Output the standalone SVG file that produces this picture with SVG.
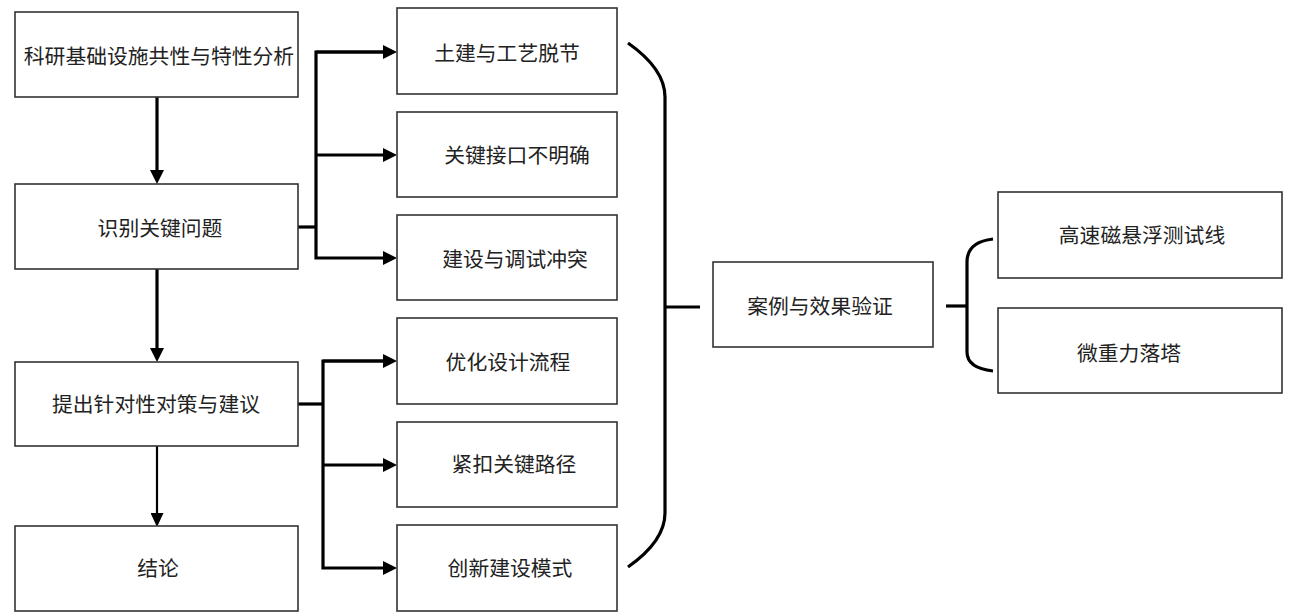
<svg xmlns="http://www.w3.org/2000/svg" width="1290" height="615" viewBox="0 0 1290 615">
<defs>
<style>
.box{fill:#fff;stroke:#333;stroke-width:1.6}
.t{font-family:"Noto Sans CJK SC","Noto Sans",sans-serif;font-size:20.8px;fill:#222;text-anchor:middle;dominant-baseline:central}
.c{fill:none;stroke:#000;stroke-width:3.2;stroke-linejoin:miter;stroke-linecap:butt}
.thin{stroke-width:2.2}
</style>
<marker id="ah" markerUnits="userSpaceOnUse" markerWidth="14" markerHeight="14" refX="0" refY="7" orient="auto" viewBox="0 0 14 14">
<path d="M0,0 L14,7 L0,14 z" fill="#000"/>
</marker>
<marker id="ahs" markerUnits="userSpaceOnUse" markerWidth="14" markerHeight="13" refX="0" refY="6.5" orient="auto" viewBox="0 0 14 13">
<path d="M0,0 L14,6.5 L0,13 z" fill="#000"/>
</marker>
</defs>
<rect width="1290" height="615" fill="#fff"/>

<g id="connectors">
<path class="c" d="M157,97 V170" marker-end="url(#ah)"/>
<path class="c" d="M157,269 V348" marker-end="url(#ah)"/>
<path class="c thin" d="M157,446 V513" marker-end="url(#ahs)"/>
<path class="c" d="M298,227 H316"/>
<path class="c" d="M383,52 H316 V258 H383" marker-end="url(#ah)"/>
<path class="c" d="M316,52 H383" marker-end="url(#ah)"/>
<path class="c" d="M316,155 H383" marker-end="url(#ah)"/>
<path class="c" d="M298,404 H323"/>
<path class="c" d="M383,361 H323 V568 H383" marker-end="url(#ah)"/>
<path class="c" d="M323,361 H383" marker-end="url(#ah)"/>
<path class="c" d="M323,465 H383" marker-end="url(#ah)"/>
<path class="c" d="M628,43 Q665,69 665,97 V513 Q665,541 628,567"/>
<path class="c" d="M665,307 H700"/>
<path class="c" d="M993,239 Q967,242 967,262 V352 Q967,368 993,371"/>
<path class="c" d="M946,306 H967"/>
</g>

<g id="n1"><rect class="box" x="15" y="12" width="283" height="85"/><text class="t" x="159" y="55">科研基础设施共性与特性分析</text></g>
<g id="n2"><rect class="box" x="15" y="184" width="283" height="85"/><text class="t" x="160" y="227">识别关键问题</text></g>
<g id="n3"><rect class="box" x="15" y="362" width="283" height="84"/><text class="t" x="156" y="403">提出针对性对策与建议</text></g>
<g id="n4"><rect class="box" x="15" y="526" width="283" height="85"/><text class="t" x="158" y="567">结论</text></g>

<g id="m1"><rect class="box" x="397" y="8" width="220" height="86"/><text class="t" x="507" y="52">土建与工艺脱节</text></g>
<g id="m2"><rect class="box" x="397" y="112" width="220" height="85"/><text class="t" x="517" y="154">关键接口不明确</text></g>
<g id="m3"><rect class="box" x="397" y="215" width="220" height="85"/><text class="t" x="515" y="258">建设与调试冲突</text></g>
<g id="m4"><rect class="box" x="397" y="318" width="220" height="86"/><text class="t" x="508" y="361">优化设计流程</text></g>
<g id="m5"><rect class="box" x="397" y="422" width="220" height="85"/><text class="t" x="514" y="463">紧扣关键路径</text></g>
<g id="m6"><rect class="box" x="397" y="525" width="220" height="86"/><text class="t" x="510" y="567">创新建设模式</text></g>

<g id="case"><rect class="box" x="713" y="262" width="220" height="85"/><text class="t" x="820" y="305">案例与效果验证</text></g>
<g id="r1"><rect class="box" x="998" y="192" width="284" height="86"/><text class="t" x="1142" y="234">高速磁悬浮测试线</text></g>
<g id="r2"><rect class="box" x="998" y="308" width="284" height="85"/><text class="t" x="1129" y="352">微重力落塔</text></g>
</svg>
